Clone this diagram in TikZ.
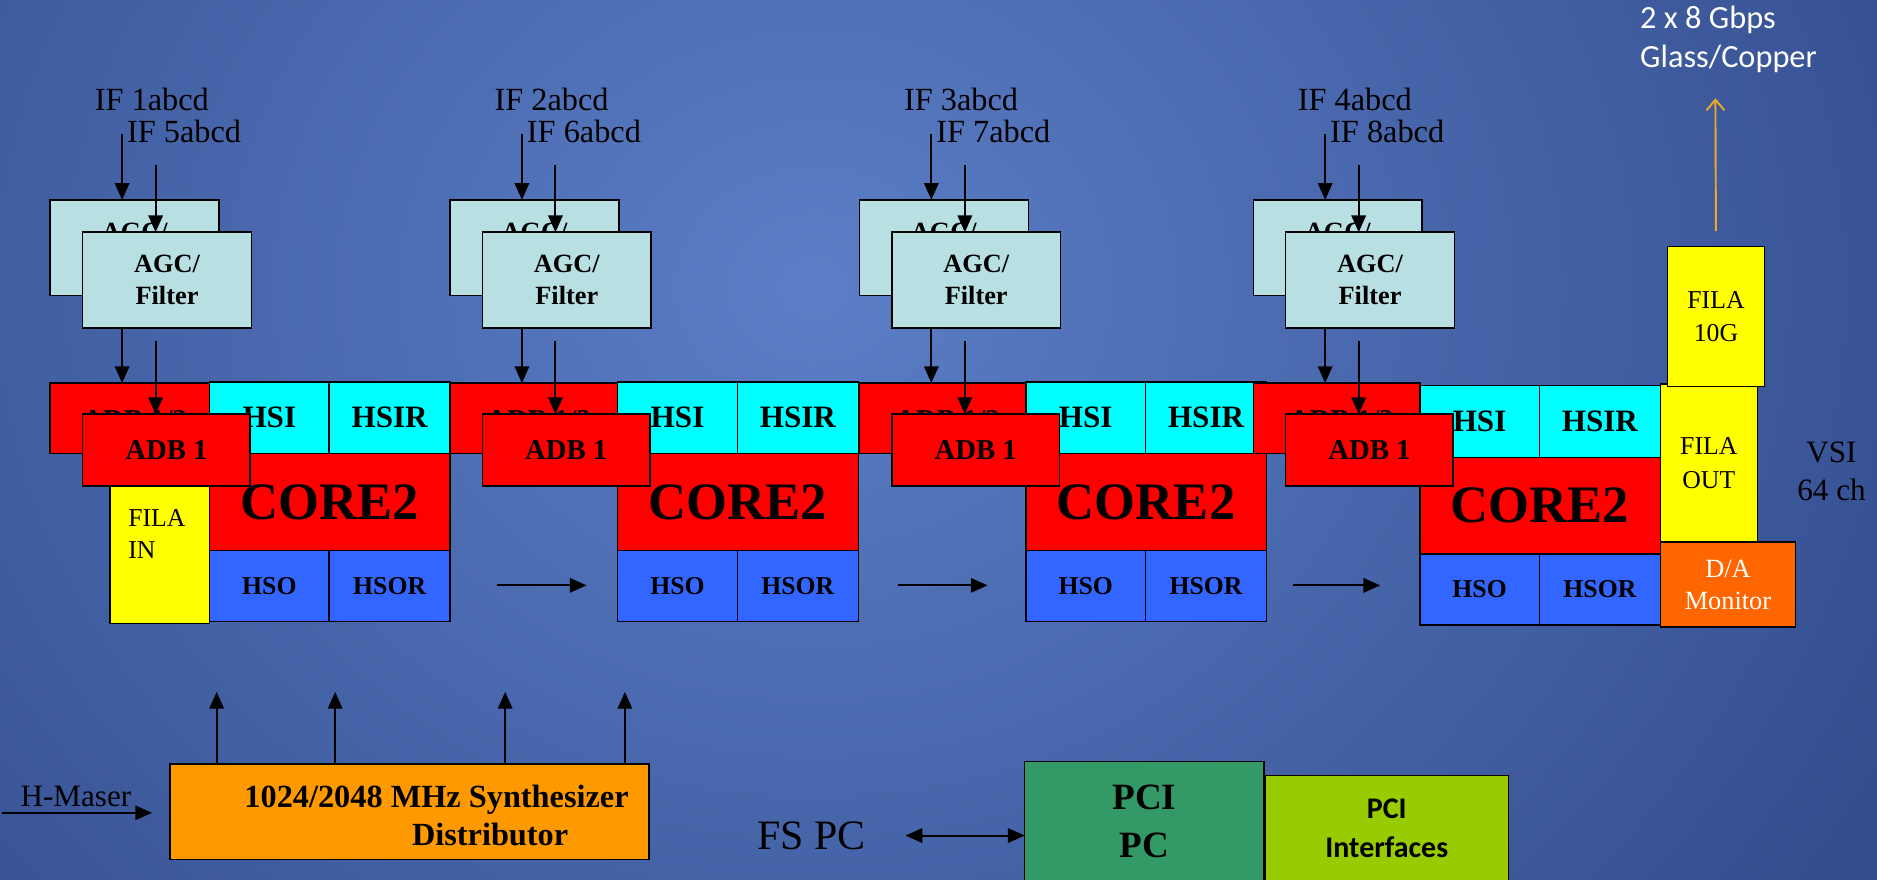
\documentclass[tikz,border=0pt]{standalone}
\usepackage{fontspec}
\setmainfont{Liberation Serif}
\newfontfamily\calibfont{Carlito}
\usetikzlibrary{arrows.meta,positioning}
\definecolor{BgInner}{HTML}{5B7EC6}
\definecolor{BgOuter}{HTML}{213775}
\definecolor{AgcCyan}{HTML}{B8DFE2}
\definecolor{AdbRed}{HTML}{FF0000}
\definecolor{HsiCyan}{HTML}{00FFFF}
\definecolor{HsoBlue}{HTML}{3366FF}
\definecolor{FilaYellow}{HTML}{FFFF00}
\definecolor{DaOrange}{HTML}{FF6600}
\definecolor{SynthOrange}{HTML}{FF9900}
\definecolor{PciGreen}{HTML}{339966}
\definecolor{PciLime}{HTML}{99CC00}
\definecolor{FibreGold}{HTML}{EEA928}
\newcommand{\txtsize}[2]{\fontsize{#1}{#2}\selectfont}

\begin{document}
\begin{tikzpicture}[x=1pt, y=-1pt, blk/.style={draw=black, line width=1.3pt, inner sep=0pt, outer sep=0pt, align=center, anchor=north west}, sz/.style 2 args={minimum width=#1, minimum height=#2}, agc/.style={blk, fill=AgcCyan, sz={141}{80}, font=\bfseries\txtsize{22}{27}}, adb/.style={blk, fill=AdbRed, font=\bfseries\txtsize{24}{28}}, hsi/.style={blk, fill=HsiCyan, font=\bfseries\txtsize{26}{30}}, hso/.style={blk, fill=HsoBlue, font=\bfseries\txtsize{21.5}{26}}, fila/.style={blk, fill=FilaYellow, font=\txtsize{21.5}{28}}, lbl/.style={inner sep=0pt, align=center, font=\txtsize{27}{27}}, arrow/.style={-{Triangle[length=14pt, width=12pt]}, line width=1.7pt, black}]
\useasboundingbox (0,0) rectangle (1568,735);
\clip (0,0) rectangle (1568,735);
\fill[BgOuter] (0,0) rectangle (1568,735);
\shade[inner color=BgInner, outer color=BgOuter] (680,240) ellipse (1500 and 1300);

% four IF chains
\foreach \i/\j/\a/\c/\dy in {1/5/42/175/0, 2/6/376/516/0, 3/7/718/857/0, 4/8/1047/1186/3}{
  \node[lbl, anchor=west] (ifa\i) at (\a+37,83) {IF \i abcd};
  \node[lbl, anchor=west] (ifb\i) at (\a+64,110) {IF \j abcd};
  \node[agc] (agcb\i) at (\a,167) {AGC/\\Filter};
  \node[agc] (agcf\i) at (\a+27,194) {AGC/\\Filter};
  \node[adb, sz={\c-\a}{59}] (adbb\i) at (\a,320) {};
  \node[inner sep=0pt, font=\bfseries\txtsize{24}{28}] (adbbtxt\i) at ({(\a+\c)/2+4},351) {ADB 1/2};
  \node[hsi, sz={100}{60}] (hsi\i) at (\c,319+\dy) {HSI};
  \node[hsi, sz={101}{60}] (hsir\i) [right=0pt of hsi\i] {HSIR};
  \node[adb, sz={201}{81}, font=\bfseries\txtsize{44}{44}] (core\i) [below=0pt of hsi\i.south west, anchor=north west] {CORE2};
  \node[hso, sz={100}{59}] (hso\i) [below=0pt of core\i.south west, anchor=north west] {HSO};
  \node[hso, sz={101}{59}] (hsor\i) [right=0pt of hso\i] {HSOR};
  \node[adb, sz={140}{60}] (adbf\i) at (\a+27,346) {ADB 1};
  \coordinate (ina\i) at (\a+60,112);
  \coordinate (inb\i) at (\a+88,138);
  \coordinate (midb\i) at (\a+88,285);
  \draw[arrow] (ina\i) -- (ina\i |- agcb\i.north);
  \draw[arrow] (inb\i) -- (inb\i |- agcf\i.north);
  \draw[arrow] (ina\i |- agcf\i.south) -- (ina\i |- adbb\i.north);
  \draw[arrow] (midb\i) -- (midb\i |- adbf\i.north);
}
\node[fila, sz={83}{115}] (filain) at (92,406) {};
\node[inner sep=0pt, align=left, font=\txtsize{21.5}{27}, anchor=west] (filaintxt) at (107,446) {FILA\\IN};

% data flow between chains
\foreach \s/\e in {415/490, 750/825, 1080/1153}{
  \coordinate (fl\s) at (\s,489);
  \coordinate (fr\s) at (\e,489);
  \draw[arrow] (fl\s) -- (fr\s);
}

% output side
\node[fila, sz={81}{132}] (filaout) at (1387,321) {FILA\\OUT};
\node[fila, sz={81}{117}] (fila10g) at (1393,206) {FILA\\10G};
\node[blk, fill=DaOrange, sz={113}{71}, text=white, font=\txtsize{22}{27}] (da) at (1387,453) {D/A\\Monitor};
\node[lbl, font=\txtsize{26}{32}] (vsi) at (1530,394) {VSI\\64 ch};
\node[inner sep=0pt, align=left, text=white, font=\calibfont\txtsize{27}{32}, anchor=west] (gbps) at (1370,33) {2 x 8 Gbps\\Glass/Copper};
\coordinate (fibretop) at (1433,82);
\draw[-{Straight Barb[length=9pt, width=15pt]}, line width=1.6pt, FibreGold, shorten <=13pt] (fila10g.north) -- (fibretop);

% clock and control
\node[blk, fill=SynthOrange, sz={400}{80}] (synth) at (142,638) {};
\node[inner sep=0pt, align=left, font=\bfseries\txtsize{27}{32}, anchor=west] (synthtxt) at (204,681) {1024/2048 MHz Synthesizer\\\hspace*{140pt}Distributor};
\foreach \x in {181,280,422,522}{
  \coordinate (up\x) at (\x,578);
  \draw[arrow] (up\x |- synth.north) -- (up\x);
}
\node[lbl, anchor=west, font=\txtsize{26}{26}] (maser) at (17,665) {H-Maser};
\coordinate (maserin) at (2,679);
\draw[arrow, shorten >=15pt] (maserin) -- (maserin -| synth.west);
\node[lbl, font=\txtsize{35}{35}] (fspc) at (678,698) {FS PC};
\node[blk, fill=PciGreen, sz={200}{100}, font=\bfseries\txtsize{31}{40}] (pcipc) at (856,636) {PCI\\PC};
\node[blk, fill=PciLime, sz={203}{88}, font=\calibfont\bfseries\txtsize{25}{33}] (pciif) at (1057,648) {PCI\\Interfaces};
\draw[{Triangle[length=14pt, width=12pt]}-{Triangle[length=14pt, width=12pt]}, line width=1.7pt, shorten <=33pt] (fspc.east) -- (fspc.east -| pcipc.west);
\end{tikzpicture}
\end{document}
